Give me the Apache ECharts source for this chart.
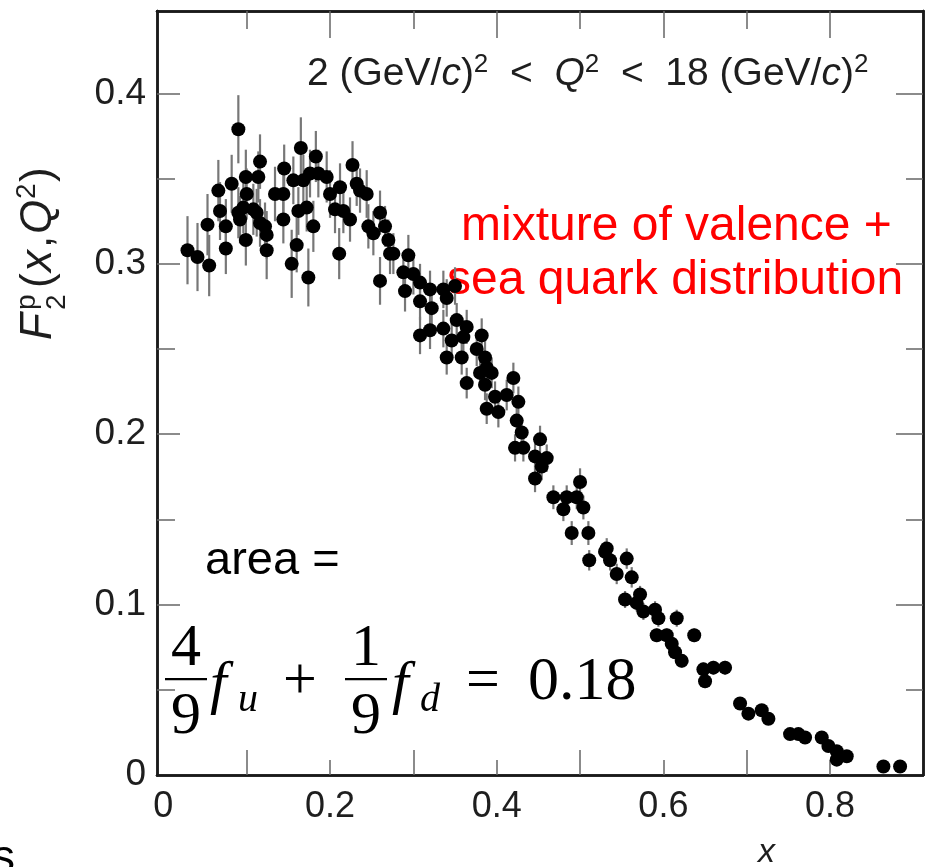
<!DOCTYPE html>
<html>
<head>
<meta charset="utf-8">
<script src="https://cdn.jsdelivr.net/npm/echarts@6/dist/echarts.min.js"></script>
<style>
  html, body { margin: 0; padding: 0; background: #fff; }
  #chart { width: 932px; height: 867px; }
</style>
</head>
<body>
<div id="chart"></div>
<script>
// Proton structure function F2(x,Q^2), 2 < Q^2 < 18 (GeV/c)^2
const xValues = [
  0.029, 0.041, 0.055, 0.053, 0.066, 0.068, 0.075, 0.075, 0.082, 0.090,
  0.099, 0.100, 0.090, 0.092, 0.099, 0.116, 0.114, 0.112, 0.116, 0.122,
  0.124, 0.124, 0.134, 0.145, 0.144, 0.154, 0.160, 0.165, 0.168, 0.174,
  0.183, 0.180, 0.196, 0.211, 0.227, 0.244, 0.260, 0.212, 0.144, 0.156,
  0.176, 0.186, 0.172, 0.162, 0.200, 0.206, 0.216, 0.224, 0.232, 0.236,
  0.246, 0.252, 0.260, 0.266, 0.270, 0.276, 0.096, 0.108,
  0.272, 0.294, 0.288, 0.300, 0.290, 0.308, 0.320, 0.336, 0.350, 0.308,
  0.322, 0.340, 0.308, 0.320, 0.336, 0.352, 0.364, 0.346, 0.360, 0.382,
  0.376, 0.340, 0.358, 0.386, 0.388, 0.394, 0.380, 0.364, 0.386, 0.420,
  0.398, 0.412, 0.426, 0.388, 0.402, 0.424, 0.430, 0.452, 0.422, 0.432,
  0.446, 0.460, 0.454, 0.446, 0.500, 0.468, 0.484, 0.496, 0.480, 0.504,
  0.490, 0.510, 0.532,
  0.511, 0.530, 0.536, 0.556, 0.544, 0.562, 0.554, 0.572, 0.568, 0.576,
  0.590, 0.594, 0.616, 0.592, 0.604, 0.610, 0.614, 0.622, 0.637, 0.648,
  0.660, 0.674, 0.650, 0.692, 0.702, 0.718, 0.726, 0.752, 0.762, 0.770,
  0.790, 0.798, 0.808, 0.808, 0.820, 0.864, 0.884
];
const yValues = [
  0.308, 0.304, 0.299, 0.323, 0.343, 0.331, 0.322, 0.309, 0.347, 0.379,
  0.351, 0.341, 0.330, 0.326, 0.314, 0.360, 0.351, 0.330, 0.324, 0.322,
  0.317, 0.308, 0.341, 0.356, 0.326, 0.300, 0.311, 0.368, 0.349, 0.292,
  0.363, 0.322, 0.351, 0.306, 0.358, 0.341, 0.290, 0.345, 0.341, 0.349,
  0.353, 0.353, 0.333, 0.331, 0.341, 0.332, 0.331, 0.326, 0.347, 0.343,
  0.322, 0.318, 0.330, 0.322, 0.314, 0.306, 0.333, 0.332,
  0.306, 0.305, 0.295, 0.294, 0.284, 0.289, 0.285, 0.285, 0.287, 0.278,
  0.274, 0.280, 0.258, 0.261, 0.262, 0.267, 0.263, 0.255, 0.257, 0.258,
  0.250, 0.245, 0.245, 0.245, 0.239, 0.236, 0.236, 0.230, 0.229, 0.233,
  0.222, 0.223, 0.219, 0.215, 0.213, 0.208, 0.201, 0.197, 0.192, 0.192,
  0.187, 0.186, 0.181, 0.174, 0.172, 0.163, 0.163, 0.163, 0.156, 0.157,
  0.142, 0.142, 0.133,
  0.126, 0.131, 0.126, 0.127, 0.118, 0.116, 0.103, 0.106, 0.101, 0.096,
  0.097, 0.092, 0.092, 0.082, 0.082, 0.077, 0.072, 0.067, 0.082, 0.062,
  0.063, 0.063, 0.055, 0.042, 0.036, 0.038, 0.033, 0.024, 0.024, 0.022,
  0.022, 0.017, 0.014, 0.009, 0.011, 0.005, 0.005
];
const yErrors = [
  0.020, 0.020, 0.018, 0.018, 0.018, 0.017, 0.016, 0.015, 0.017, 0.020,
  0.016, 0.015, 0.015, 0.014, 0.015, 0.016, 0.015, 0.014, 0.014, 0.014,
  0.014, 0.017, 0.016, 0.014, 0.014, 0.020, 0.016, 0.018, 0.015, 0.017,
  0.015, 0.015, 0.015, 0.015, 0.014, 0.014, 0.014, 0.014, 0.014, 0.014,
  0.014, 0.014, 0.014, 0.014, 0.014, 0.014, 0.013, 0.013, 0.013, 0.013,
  0.013, 0.013, 0.013, 0.012, 0.012, 0.012, 0.015, 0.015,
  0.012, 0.012, 0.012, 0.012, 0.012, 0.011, 0.011, 0.011, 0.011, 0.011,
  0.011, 0.011, 0.011, 0.011, 0.011, 0.010, 0.010, 0.010, 0.010, 0.010,
  0.010, 0.010, 0.010, 0.010, 0.009, 0.009, 0.009, 0.009, 0.009, 0.009,
  0.009, 0.009, 0.009, 0.009, 0.009, 0.008, 0.008, 0.008, 0.008, 0.008,
  0.008, 0.008, 0.008, 0.008, 0.008, 0.007, 0.007, 0.007, 0.007, 0.007,
  0.007, 0.007, 0.006,
  0.006, 0.006, 0.006, 0.006, 0.006, 0.006, 0.005, 0.005, 0.005, 0.005,
  0.005, 0.005, 0.005, 0.004, 0.004, 0.004, 0.004, 0.004, 0.004, 0.004,
  0.004, 0.004, 0.004, 0.003, 0.003, 0.003, 0.003, 0.003, 0.003, 0.003,
  0.003, 0.003, 0.002, 0.002, 0.002, 0.002, 0.002
];

const xLabelValues = [0, 0.2, 0.4, 0.6, 0.8];
const xTickOdd = [0.1, 0.3, 0.5, 0.7];
const xTickEven = [0.2, 0.4, 0.6, 0.8];
const yLabelValues = [0, 0.1, 0.2, 0.3, 0.4];
const yTickMajor = [0.1, 0.2, 0.3, 0.4];
const yTickMinor = [0.05, 0.15, 0.25, 0.35];

const X_MIN = -0.0076, X_MAX = 0.9115;
const Y_MIN = 0, Y_MAX = 0.4484;

const SANS = '"Liberation Sans", Arial, Helvetica, sans-serif';
const SERIF = '"Liberation Serif", "DejaVu Serif", serif';
const FRAME = '#1a1a1a';
const TICK = '#666';
const INK = '#1e1e1e';

const points = xValues.map((x, i) => [x, yValues[i]]);
const bars = xValues.map((x, i) => [x, yValues[i] - yErrors[i], yValues[i] + yErrors[i]]);

function xAxisDef(position, ticks, len, opts) {
  return Object.assign({
    type: 'value', position, min: X_MIN, max: X_MAX,
    splitLine: { show: false },
    axisLine: { show: true, onZero: false, lineStyle: { color: FRAME, width: 2.5 } },
    axisTick: { show: true, inside: true, length: len, customValues: ticks, lineStyle: { color: TICK, width: 1.5 } },
    axisLabel: { show: false }
  }, opts || {});
}
function yAxisDef(position, ticks, len, opts) {
  return Object.assign({
    type: 'value', position, min: Y_MIN, max: Y_MAX,
    splitLine: { show: false },
    axisLine: { show: true, onZero: false, lineStyle: { color: FRAME, width: 2.5 } },
    axisTick: { show: true, inside: true, length: len, customValues: ticks, lineStyle: { color: TICK, width: 1.5 } },
    axisLabel: { show: false }
  }, opts || {});
}

// plain text helper for the formula and titles (absolute positions, top-aligned boxes)
function txt(x, y, s, size, opts) {
  return {
    type: 'text', x, y,
    style: Object.assign({ text: s, fontFamily: SANS, fontSize: size, fill: INK, verticalAlign: 'top' }, opts || {})
  };
}

const chart = echarts.init(document.getElementById('chart'), null, { renderer: 'canvas' });

const option = {
  backgroundColor: '#fff',
  animation: false,
  grid: { left: 157, right: 9, top: 11, bottom: 92, containLabel: false },
  xAxis: [
    xAxisDef('bottom', xTickOdd, 25, {
      axisLabel: {
        show: true, customValues: xLabelValues, margin: 14,
        fontFamily: SANS, fontSize: 36, color: INK,
        formatter: v => (v === 0 ? '0' : v.toFixed(1))
      }
    }),
    xAxisDef('top', xTickEven, 27),
    xAxisDef('bottom', xTickEven, 15),
    xAxisDef('top', xTickOdd, 18)
  ],
  yAxis: [
    yAxisDef('left', yTickMajor, 23, {
      axisLabel: {
        show: true, customValues: yLabelValues, margin: 11,
        fontFamily: SANS, fontSize: 37, color: INK,
        formatter: v => (v === 0 ? '0' : v.toFixed(1))
      }
    }),
    yAxisDef('right', yTickMajor, 27),
    yAxisDef('left', yTickMinor, 18),
    yAxisDef('right', yTickMinor, 17)
  ],
  series: [
    {
      type: 'custom',
      name: 'error',
      xAxisIndex: 0, yAxisIndex: 0,
      data: bars,
      encode: { x: 0, y: [1, 2] },
      renderItem: function (params, api) {
        const lo = api.coord([api.value(0), api.value(1)]);
        const hi = api.coord([api.value(0), api.value(2)]);
        return {
          type: 'line',
          shape: { x1: lo[0], y1: lo[1], x2: hi[0], y2: hi[1] },
          style: { stroke: '#777', lineWidth: 2.2 }
        };
      },
      z: 2
    },
    {
      type: 'scatter',
      name: 'F2p',
      xAxisIndex: 0, yAxisIndex: 0,
      data: points,
      symbol: 'circle',
      symbolSize: 14,
      itemStyle: { color: '#000', opacity: 1 },
      z: 3
    }
  ],
  graphic: [
    // Q^2 range
    {
      type: 'text', left: 307, top: 52,
      style: {
        text: '{n|2 (GeV/}{i|c}{n|)}{s|2}{n|  <  }{i|Q}{s|2}{n|  <  18 (GeV/}{i|c}{n|)}{s|2}',
        rich: {
          n: { fontFamily: SANS, fontSize: 39, fill: INK, verticalAlign: 'bottom' },
          i: { fontFamily: SANS, fontStyle: 'italic', fontSize: 39, fill: INK, verticalAlign: 'bottom' },
          s: { fontFamily: SANS, fontSize: 26, fill: INK, verticalAlign: 'top', padding: [0, 0, 16, 0] }
        }
      }
    },
    // annotation in red
    txt(461, 203, 'mixture of valence +', 48, { fill: '#ff0000' }),
    txt(447, 257, 'sea quark distribution', 48, { fill: '#ff0000' }),
    // area label
    txt(205, 538, 'area =', 47, { fill: '#000' }),
    // 4/9 f_u + 1/9 f_d = 0.18
    {
      type: 'group', x: 0, y: 0,
      children: [
        txt(186, 619, '4', 60, { fontFamily: SERIF, fill: '#000', align: 'center' }),
        { type: 'rect', shape: { x: 165, y: 678, width: 42, height: 2.2 }, style: { fill: '#000' } },
        txt(186, 687, '9', 60, { fontFamily: SERIF, fill: '#000', align: 'center' }),
        txt(210, 656, 'f', 60, { fontFamily: SERIF, fontStyle: 'italic', fill: '#000' }),
        txt(238, 680, 'u', 40, { fontFamily: SERIF, fontStyle: 'italic', fill: '#000' }),
        txt(300, 652, '+', 60, { fontFamily: SERIF, fill: '#000', align: 'center' }),
        txt(366, 619, '1', 60, { fontFamily: SERIF, fill: '#000', align: 'center' }),
        { type: 'rect', shape: { x: 345, y: 678, width: 42, height: 2.2 }, style: { fill: '#000' } },
        txt(366, 687, '9', 60, { fontFamily: SERIF, fill: '#000', align: 'center' }),
        txt(392, 656, 'f', 60, { fontFamily: SERIF, fontStyle: 'italic', fill: '#000' }),
        txt(420, 680, 'd', 40, { fontFamily: SERIF, fontStyle: 'italic', fill: '#000' }),
        txt(466, 652, '=', 60, { fontFamily: SERIF, fill: '#000' }),
        txt(528, 652, '0.18', 62, { fontFamily: SERIF, fill: '#000' })
      ]
    },
    // y-axis title F2^p(x,Q^2), reading bottom to top
    {
      type: 'group', x: 17, y: 340, rotation: Math.PI / 2,
      children: [
        txt(0, 0, 'F', 44, { fontStyle: 'italic' }),
        txt(30, -4, 'p', 28),
        txt(30, 26, '2', 28),
        txt(52, 0, '(', 44),
        txt(68, 0, 'x', 44, { fontStyle: 'italic' }),
        txt(92, 0, ',', 44),
        txt(106, 0, 'Q', 44, { fontStyle: 'italic' }),
        txt(141, -4, '2', 28),
        txt(158, 0, ')', 44)
      ]
    },
    // x-axis title
    txt(758, 836, 'x', 34, { fontStyle: 'italic' }),
    txt(-8, 836, 's', 46, { fill: '#000' })
  ]
};

chart.setOption(option);
</script>
</body>
</html>
